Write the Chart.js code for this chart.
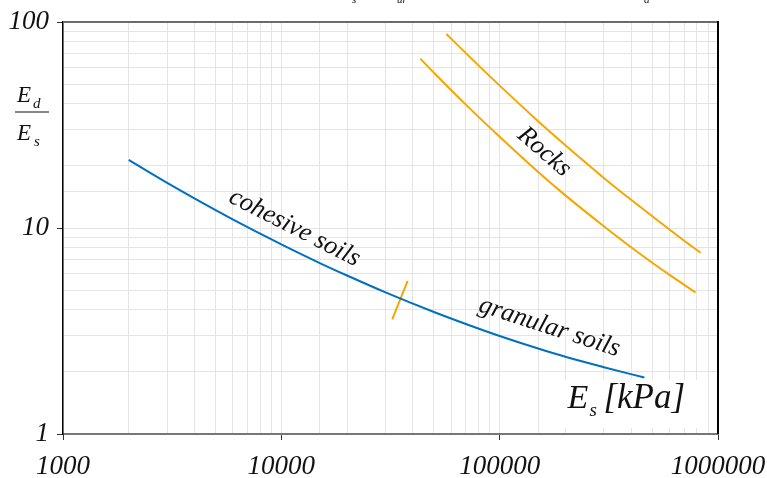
<!DOCTYPE html>
<html>
<head>
<meta charset="utf-8">
<script src="https://cdn.jsdelivr.net/npm/chart.js@4.4.0/dist/chart.umd.min.js"></script>
<style>
  html, body { margin: 0; padding: 0; background: #fff; }
  #wrap { width: 767px; height: 478px; }
</style>
</head>
<body>
<div id="wrap"><canvas id="chart"></canvas></div>
<script>
// E_s in kPa against the ratio E_d / E_s
var soilEs    = [2000, 3000, 5000, 7000, 10000, 15000, 20000, 30000, 50000, 70000, 100000, 150000, 200000, 300000, 460000];
var soilRatio = [21.4, 16.56, 12.21, 10.09, 8.33, 6.76, 5.88, 4.87, 3.91, 3.42, 2.99, 2.60, 2.37, 2.11, 1.88];

var rocksUpperEs    = [57000, 70000, 100000, 150000, 200000, 300000, 400000, 500000, 700000, 832000];
var rocksUpperRatio = [87.5, 70.6, 49.1, 33.0, 25.2, 17.5, 13.7, 11.4, 8.67, 7.58];

var rocksLowerEs    = [43300, 50000, 70000, 100000, 150000, 200000, 300000, 400000, 500000, 600000, 789000];
var rocksLowerRatio = [66.4, 56.7, 39.7, 27.7, 18.7, 14.4, 10.2, 8.06, 6.78, 5.92, 4.87];

// short mark between cohesive and granular soils
var boundaryEs    = [32200, 37900];
var boundaryRatio = [3.6, 5.54];

var xTickLabels = [1000, 10000, 100000, 1000000];
var yTickLabels = [1, 10, 100];

function pts(xs, ys) {
  var out = [];
  for (var i = 0; i < xs.length; i++) out.push({x: xs[i], y: ys[i]});
  return out;
}

var BLUE = '#0070c0';
var ORANGE = '#f7a600';
var SERIF = '"Liberation Serif", "Times New Roman", serif';

// curve names, written along the curves
var curveNames = [
  {text: 'cohesive soils', x: 11500, y: 10.0, angle: 27},
  {text: 'granular soils', x: 169000, y: 3.30, angle: 18},
  {text: 'Rocks', x: 160000, y: 23.4, angle: 41}
];

var decor = {
  id: 'decor',
  afterDraw: function(chart) {
    var ctx = chart.ctx;
    var a = chart.chartArea;
    var xs = chart.scales.x, ys = chart.scales.y;
    ctx.save();

    // frame: grey top, black right
    ctx.lineWidth = 2;
    ctx.strokeStyle = '#6b6b6b';
    ctx.beginPath(); ctx.moveTo(a.left, a.top); ctx.lineTo(a.right, a.top); ctx.stroke();
    ctx.strokeStyle = '#000';
    ctx.beginPath(); ctx.moveTo(a.right, a.top - 1); ctx.lineTo(a.right, a.bottom); ctx.stroke();

    ctx.fillStyle = '#111';
    ctx.textAlign = 'center';
    ctx.textBaseline = 'middle';
    ctx.font = 'italic 26px ' + SERIF;
    curveNames.forEach(function(n) {
      ctx.save();
      ctx.translate(xs.getPixelForValue(n.x), ys.getPixelForValue(n.y));
      ctx.rotate(n.angle * Math.PI / 180);
      ctx.fillText(n.text, 0, 0);
      ctx.restore();
    });

    // x axis title on a white box inside the plot
    var bx = xs.getPixelForValue(200000), by = ys.getPixelForValue(1.28);
    ctx.fillStyle = '#fff';
    ctx.fillRect(bx - 3, by - 32, 142, 48);
    ctx.fillStyle = '#111';
    ctx.textAlign = 'left';
    ctx.textBaseline = 'alphabetic';
    ctx.font = 'italic 34px ' + SERIF;
    ctx.fillText('E', bx + 2, by - 4);
    ctx.font = 'italic 19px ' + SERIF;
    ctx.fillText('s', bx + 24, by + 4);
    ctx.font = 'italic 35px ' + SERIF;
    ctx.fillText('[kPa]', bx + 38, by - 4);

    // y axis title as a fraction E_d / E_s
    ctx.font = 'italic 23px ' + SERIF;
    ctx.fillText('E', 17, 102);
    ctx.fillText('E', 17, 140);
    ctx.font = 'italic 15px ' + SERIF;
    ctx.fillText('d', 33, 108);
    ctx.fillText('s', 34, 146);
    ctx.lineWidth = 1.2;
    ctx.strokeStyle = '#111';
    ctx.beginPath(); ctx.moveTo(15, 112); ctx.lineTo(49, 112); ctx.stroke();

    // bottom of the heading line above the plot
    ctx.font = 'italic 11px ' + SERIF;
    ctx.fillText('s', 352, 3);
    ctx.fillText('ur', 397, 3);
    ctx.fillText('d', 644, 3);

    ctx.restore();
  }
};

function scaleOpts(min, max, labels, borderColor, borderWidth) {
  return {
    type: 'logarithmic',
    min: min,
    max: max,
    border: {color: borderColor, width: borderWidth},
    grid: {
      color: '#e4e4e4',
      lineWidth: 1,
      tickLength: 6,
      tickColor: function(c) {
        return c.tick && labels.indexOf(c.tick.value) >= 0 ? '#333' : 'rgba(0,0,0,0)';
      }
    },
    ticks: {
      autoSkip: false,
      maxRotation: 0,
      font: {family: SERIF, size: 27, style: 'italic'},
      color: '#111',
      callback: function(v) { return labels.indexOf(v) >= 0 ? String(v) : ''; }
    }
  };
}

var xOpts = scaleOpts(1000, 1000000, xTickLabels, '#777', 2);
xOpts.ticks.padding = 11;
xOpts.afterFit = function(s) {
  s.height = 44;
  // let the end labels hang past the plot edges
  s.paddingLeft = 0;
  s.paddingRight = 0;
};
var yOpts = scaleOpts(1, 100, yTickLabels, '#000', 1.5);
yOpts.ticks.padding = 8;
yOpts.afterFit = function(s) {
  s.width = 63;
  s.paddingTop = 0;
  s.paddingBottom = 0;
};

new Chart(document.getElementById('chart'), {
  type: 'line',
  data: {
    datasets: [
      {data: pts(soilEs, soilRatio), borderColor: BLUE},
      {data: pts(rocksUpperEs, rocksUpperRatio), borderColor: ORANGE},
      {data: pts(rocksLowerEs, rocksLowerRatio), borderColor: ORANGE},
      {data: pts(boundaryEs, boundaryRatio), borderColor: ORANGE}
    ].map(function(d) {
      d.borderWidth = 2;
      d.pointRadius = 0;
      d.fill = false;
      d.cubicInterpolationMode = 'monotone';
      return d;
    })
  },
  options: {
    responsive: true,
    maintainAspectRatio: false,
    animation: false,
    layout: {padding: {top: 22, right: 49, left: 0, bottom: 0}},
    plugins: {legend: {display: false}, tooltip: {enabled: false}},
    scales: {x: xOpts, y: yOpts}
  },
  plugins: [decor]
});
</script>
</body>
</html>
